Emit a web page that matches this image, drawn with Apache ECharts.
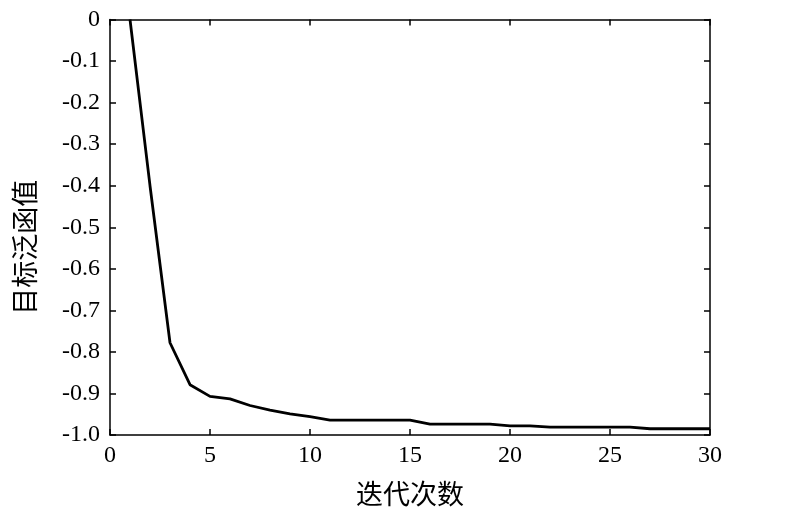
<!DOCTYPE html>
<html><head><meta charset="utf-8">
<script src="https://cdn.jsdelivr.net/npm/echarts@6/dist/echarts.min.js"></script>
<style>html,body{margin:0;padding:0;background:#fff}#c{width:800px;height:520px}</style>
</head><body><div id="c"></div>
<script>
const iterations = [1,2,3,4,5,6,7,8,9,10,11,12,13,14,15,16,17,18,19,20,21,22,23,24,25,26,27,28,29,30];
const objectiveValues = [0,-0.40,-0.778,-0.879,-0.907,-0.913,-0.929,-0.940,-0.949,-0.956,-0.964,-0.964,-0.964,-0.964,-0.964,-0.974,-0.974,-0.974,-0.974,-0.978,-0.978,-0.981,-0.981,-0.981,-0.981,-0.981,-0.985,-0.985,-0.985,-0.985];
const xName = '迭代次数';
const yName = '目标泛函值';

const serif = '"Liberation Serif","Times New Roman",serif';
const cjk = '"Noto Sans CJK SC",sans-serif';
const chart = echarts.init(document.getElementById('c'));
const axisLineStyle = {show:true, onZero:false, lineStyle:{color:'#000', width:1.5}};
const tickStyle = {show:true, inside:true, length:6, lineStyle:{color:'#000', width:1.5}};
chart.setOption({
  animation:false,
  backgroundColor:'#fff',
  grid:{left:110, right:90, top:19.5, bottom:85, containLabel:false},
  xAxis:[{
    type:'value', min:0, max:30, interval:5, position:'bottom',
    name:xName, nameLocation:'middle', nameGap:45,
    nameTextStyle:{fontFamily:cjk, fontSize:27, color:'#000'},
    axisLine:axisLineStyle, axisTick:tickStyle,
    axisLabel:{fontFamily:serif, fontSize:24, color:'#000', margin:9},
    splitLine:{show:false}
  },{
    type:'value', min:0, max:30, interval:5, position:'top',
    axisLine:axisLineStyle, axisTick:tickStyle, axisLabel:{show:false}, splitLine:{show:false}
  }],
  yAxis:[{
    type:'value', min:-1, max:0, interval:0.1, position:'left',
    name:yName, nameLocation:'middle', nameGap:72, nameRotate:90,
    nameTextStyle:{fontFamily:cjk, fontSize:27, color:'#000', padding:[0,40,0,0]},
    axisLine:axisLineStyle, axisTick:tickStyle,
    axisLabel:{fontFamily:serif, fontSize:24, color:'#000', margin:10,
      formatter:function(v){ if (Math.abs(v)<1e-9) return '0'; return (Math.round(v*10)/10).toFixed(1); }},
    splitLine:{show:false}
  },{
    type:'value', min:-1, max:0, interval:0.1, position:'right',
    axisLine:axisLineStyle, axisTick:tickStyle, axisLabel:{show:false}, splitLine:{show:false}
  }],
  series:[{
    type:'line', xAxisIndex:0, yAxisIndex:0,
    data: iterations.map((x,i)=>[x, objectiveValues[i]]),
    showSymbol:false, symbol:'none',
    lineStyle:{color:'#000', width:2.8},
    clip:false
  }]
});
</script></body></html>
